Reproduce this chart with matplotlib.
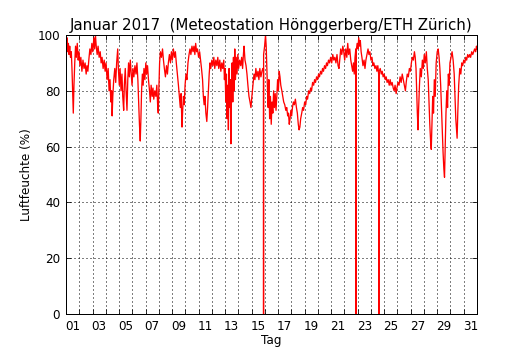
import numpy as np
import matplotlib
matplotlib.use('Agg')
import matplotlib.pyplot as plt

tag_a = [1.00, 1.04, 1.08, 1.13, 1.18, 1.23, 1.28, 1.34, 1.40, 1.45, 1.50, 1.55, 1.60, 1.66, 1.72, 1.78,
         1.85, 1.92, 1.98, 2.05, 2.12, 2.20, 2.28, 2.36, 2.44, 2.52, 2.58, 2.65, 2.72, 2.80, 2.88, 2.95,
         3.02, 3.10, 3.16, 3.22, 3.28, 3.35, 3.42, 3.50, 3.58, 3.65, 3.72, 3.80, 3.88, 3.95, 4.02, 4.10,
         4.18, 4.25, 4.32, 4.38, 4.44, 4.48, 4.53, 4.60, 4.68, 4.75, 4.82, 4.90, 4.95, 5.02, 5.08, 5.15,
         5.22, 5.28, 5.35, 5.40, 5.47, 5.53, 5.60, 5.66, 5.72, 5.78, 5.85, 5.92, 5.98, 6.05, 6.12]
rf_a = [98, 95, 99, 94, 97, 93, 96, 92, 94, 88, 80, 72, 82, 90, 96, 92,
        97, 91, 94, 89, 92, 87, 91, 88, 90, 86, 89, 87, 91, 95, 93, 97,
        94, 99, 95, 100, 96, 93, 96, 92, 94, 90, 92, 88, 91, 87, 90, 84,
        88, 80, 84, 76, 80, 71, 78, 84, 88, 83, 90, 95, 88, 82, 88, 80,
        86, 78, 73, 82, 88, 80, 73, 84, 90, 85, 91, 86, 82, 88, 85]

tag_b = [6.20, 6.28, 6.35, 6.42, 6.48, 6.54, 6.60, 6.65, 6.70, 6.76, 6.82, 6.88, 6.95, 7.02, 7.08, 7.15,
         7.22, 7.30, 7.36, 7.42, 7.50, 7.56, 7.62, 7.70, 7.78, 7.85, 7.92, 7.96, 8.00, 8.06, 8.12, 8.20,
         8.28, 8.35, 8.42, 8.50, 8.58, 8.65, 8.72, 8.80, 8.88, 8.95, 9.02, 9.10, 9.18, 9.25, 9.32, 9.40,
         9.48, 9.55, 9.62, 9.68, 9.75, 9.80, 9.86, 9.92, 9.98, 10.05, 10.12, 10.20, 10.28, 10.35, 10.42,
         10.50, 10.58, 10.65, 10.72, 10.78, 10.85, 10.92, 11.00, 11.08, 11.15, 11.22, 11.30, 11.36, 11.42,
         11.48, 11.55, 11.62, 11.68, 11.74, 11.80, 11.86, 11.92]
rf_b = [89, 86, 90, 84, 76, 68, 62, 70, 80, 86, 82, 88, 84, 90, 86, 89,
        84, 80, 76, 82, 78, 81, 77, 80, 78, 82, 74, 72, 80, 90, 94, 92,
        95, 91, 88, 85, 89, 86, 90, 93, 90, 94, 91, 95, 92, 94, 90, 86,
        82, 78, 74, 79, 67, 73, 78, 75, 82, 86, 84, 90, 93, 95, 93,
        96, 94, 96, 93, 97, 94, 95, 92, 94, 91, 88, 84, 78, 75,
        78, 72, 69, 74, 80, 86, 90, 88]

tag_c = [12.00, 12.08, 12.15, 12.22, 12.30, 12.38, 12.45, 12.52, 12.60, 12.68, 12.75, 12.82, 12.90, 12.95,
         13.00, 13.05, 13.10, 13.15, 13.20, 13.25, 13.30, 13.35, 13.40, 13.44, 13.48, 13.53, 13.58, 13.63,
         13.68, 13.73, 13.78, 13.84, 13.90, 13.96, 14.02, 14.10, 14.18, 14.25, 14.32, 14.38, 14.43, 14.50,
         14.58, 14.65, 14.72, 14.80, 14.88, 14.95, 15.02, 15.10, 15.18, 15.25, 15.32, 15.40, 15.48, 15.55,
         15.62, 15.70, 15.78, 15.85, 15.895, 15.90, 15.905, 15.98, 16.05, 16.10, 16.15, 16.20, 16.25, 16.30,
         16.36, 16.42, 16.48, 16.54, 16.60, 16.66, 16.72, 16.78, 16.84, 16.90]
rf_c = [91, 89, 92, 88, 91, 89, 92, 88, 91, 87, 90, 88, 91, 84,
        88, 76, 86, 70, 82, 66, 88, 74, 84, 61, 78, 90, 76, 92,
        80, 95, 84, 92, 86, 93, 88, 91, 89, 92, 88, 93, 96, 91,
        89, 86, 82, 78, 76, 74, 78, 82, 86, 84, 88, 85, 87, 84,
        88, 85, 87, 88, 88, 0, 93, 96, 100, 96, 88, 80, 74, 84,
        70, 78, 68, 76, 72, 80, 74, 79, 73, 78]

tag_d = [16.96, 17.02, 17.08, 17.14, 17.20, 17.28, 17.35, 17.42, 17.50, 17.58, 17.65, 17.72, 17.78, 17.84,
         17.90, 17.96, 18.02, 18.08, 18.15, 18.22, 18.30, 18.38, 18.45, 18.52, 18.58, 18.64, 18.70, 18.78,
         18.85, 18.92, 19.00, 19.08, 19.15, 19.22, 19.30, 19.38, 19.45, 19.52, 19.60, 19.68, 19.75, 19.82,
         19.90, 19.98, 20.05, 20.12, 20.20, 20.28, 20.35, 20.42, 20.50, 20.58, 20.65, 20.72, 20.80, 20.88,
         20.96, 21.04, 21.12, 21.20, 21.28, 21.36, 21.44, 21.52, 21.59, 21.66, 21.72, 21.80, 21.88, 21.95]
rf_d = [84, 80, 87, 85, 82, 80, 78, 76, 75, 73, 74, 71, 72, 68,
        70, 73, 71, 74, 76, 75, 77, 74, 72, 68, 66, 67, 70, 72,
        74, 73, 76, 75, 78, 77, 80, 79, 81, 80, 83, 82, 84, 83,
        85, 84, 86, 85, 87, 86, 88, 87, 89, 88, 90, 89, 91, 90,
        92, 90, 93, 91, 92, 90, 93, 89, 88, 92, 95, 93, 96, 94]

tag_e = [22.02, 22.10, 22.18, 22.25, 22.32, 22.40, 22.48, 22.55, 22.62, 22.68, 22.74, 22.80, 22.86, 22.875,
         22.88, 22.885, 22.96, 23.02, 23.08, 23.14, 23.20, 23.26, 23.32, 23.40, 23.48, 23.55, 23.62, 23.70,
         23.78, 23.85, 23.92, 24.00, 24.08, 24.15, 24.22, 24.30, 24.38, 24.45, 24.52, 24.58, 24.615, 24.62,
         24.625, 24.70, 24.78, 24.85, 24.92, 25.00, 25.08, 25.15, 25.22, 25.30, 25.38, 25.45, 25.52, 25.60,
         25.68, 25.75, 25.82, 25.90, 25.96, 26.04, 26.12, 26.20, 26.28, 26.36, 26.44, 26.52, 26.60, 26.66,
         26.74, 26.82, 26.90, 26.98, 27.05, 27.12, 27.20, 27.28, 27.34]
rf_e = [91, 95, 92, 97, 93, 95, 91, 89, 87, 90, 86, 92, 95, 95,
        0, 94, 97, 95, 99, 96, 98, 94, 92, 89, 91, 88, 91, 93,
        95, 93, 94, 91, 92, 89, 90, 88, 89, 87, 89, 86, 86, 0,
        87, 88, 86, 87, 85, 86, 84, 85, 83, 84, 82, 84, 82, 83,
        81, 80, 82, 79, 81, 83, 82, 85, 83, 86, 84, 82, 80, 83,
        86, 85, 88, 87, 90, 92, 91, 94, 92]

tag_f = [27.40, 27.45, 27.50, 27.55, 27.60, 27.66, 27.72, 27.80, 27.88, 27.95, 28.02, 28.10, 28.18, 28.25,
         28.32, 28.38, 28.44, 28.50, 28.55, 28.60, 28.66, 28.72, 28.78, 28.85, 28.92, 29.00, 29.07, 29.14,
         29.20, 29.26, 29.32, 29.38, 29.44, 29.50, 29.55, 29.60, 29.66, 29.72, 29.78, 29.84, 29.90, 29.96,
         30.04, 30.12, 30.20, 30.28, 30.34, 30.40, 30.46, 30.50, 30.55, 30.62, 30.70, 30.78, 30.85, 30.92,
         31.00, 31.08, 31.15, 31.22, 31.30, 31.38, 31.45, 31.52, 31.60, 31.68, 31.75, 31.82, 31.90, 31.96, 32.00]
rf_f = [88, 80, 72, 66, 74, 82, 88, 85, 91, 88, 93, 90, 94, 88,
        84, 76, 68, 62, 59, 68, 78, 72, 84, 78, 90, 94, 95, 92,
        88, 82, 74, 66, 58, 52, 49, 60, 72, 80, 74, 86, 82, 90,
        92, 94, 91, 86, 78, 70, 66, 63, 72, 82, 88, 86, 90, 89,
        91, 90, 92, 91, 93, 92, 93, 92, 94, 93, 94, 95, 94, 96, 95]

tage = tag_a + tag_b + tag_c + tag_d + tag_e + tag_f
feuchte = rf_a + rf_b + rf_c + rf_d + rf_e + rf_f

tick_tage = ['%02d' % d for d in range(1, 32, 2)]

plt.rcParams['font.family'] = 'DejaVu Sans'
fig = plt.figure(figsize=(530 / 72, 350 / 72), dpi=72)
ax = fig.add_axes([66 / 530, 1 - 314 / 350, 411 / 530, 279 / 350])

ax.plot(tage, feuchte, color='red', linewidth=1.3, solid_joinstyle='round')

ax.set_xlim(1, 32)
ax.set_ylim(0, 100)
ax.set_xticks(np.arange(1, 33))
ax.set_xticklabels([])
ax.set_xticks(np.arange(1.5, 32, 2), minor=True)
ax.set_xticklabels(tick_tage, minor=True)
ax.set_yticks(np.arange(0, 101, 20))

ax.tick_params(axis='both', which='major', direction='in', length=5, width=0.8,
               top=True, right=True, labelsize=12)
ax.tick_params(axis='x', which='minor', length=0, labelsize=12, pad=6)
ax.tick_params(axis='y', which='major', pad=6)
ax.grid(True, which='major', color='black', linestyle=(0, (1, 3)), linewidth=1.0)
for s in ax.spines.values():
    s.set_linewidth(1.0)

ax.set_title('Januar 2017  (Meteostation Hönggerberg/ETH Zürich)', fontsize=15, pad=5)
ax.set_xlabel('Tag', fontsize=12, labelpad=1)
ax.set_ylabel('Luftfeuchte (%)', fontsize=12)

fig.savefig('out.png', dpi=72, facecolor='white')
